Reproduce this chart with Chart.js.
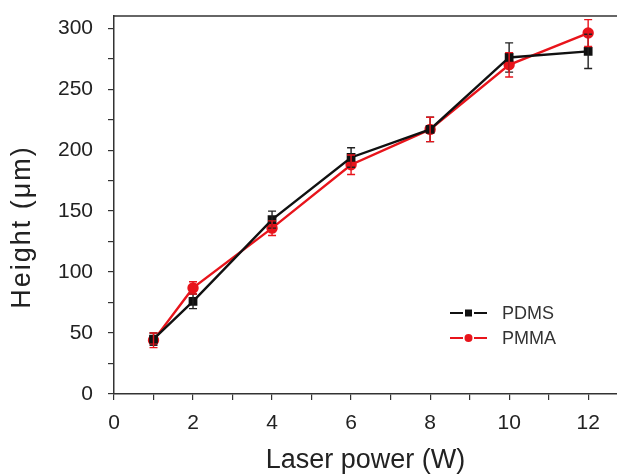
<!DOCTYPE html>
<html>
<head>
<meta charset="utf-8">
<script src="https://cdn.jsdelivr.net/npm/chart.js@4.4.1/dist/chart.umd.min.js"></script>
<style>
  html, body { margin: 0; padding: 0; background: #fff; overflow: hidden; }
  #wrap { width: 617px; height: 474px; }
  canvas { display: block; }
</style>
</head>
<body>
<div id="wrap"><canvas id="heightChart" width="617" height="474"></canvas></div>
<script>
// Donnees
const laserPower = [1, 2, 4, 6, 8, 10, 12];
const pdmsHeight = [45, 76, 143, 194, 217, 276, 281];
const pdmsError = [5, 6, 7, 8, 10, 12, 14];
const pmmaHeight = [44, 87, 136, 188, 217, 270, 296];
const pmmaError = [6, 5, 6, 8, 10, 10, 11];
const xTicks = [0, 2, 4, 6, 8, 10, 12];
const yTicks = [0, 50, 100, 150, 200, 250, 300];

const FONT = 'Arial, "Liberation Sans", sans-serif';

// Barres d'erreur, cadre du haut, titre Y et legende
const errorBars = {
  id: 'errorBars',
  afterDatasetsDraw(chart) {
    const ctx = chart.ctx;
    const xs = chart.scales.x, ys = chart.scales.y;
    const sets = [
      { values: pdmsHeight, errs: pdmsError, color: '#222' },
      { values: pmmaHeight, errs: pmmaError, color: '#e8141b' }
    ];
    ctx.save();
    sets.forEach(s => {
      ctx.strokeStyle = s.color;
      ctx.lineWidth = 1.4;
      laserPower.forEach((p, i) => {
        const x = xs.getPixelForValue(p);
        const top = ys.getPixelForValue(s.values[i] + s.errs[i]);
        const bot = ys.getPixelForValue(s.values[i] - s.errs[i]);
        ctx.beginPath();
        ctx.moveTo(x, top); ctx.lineTo(x, bot);
        ctx.moveTo(x - 4, top); ctx.lineTo(x + 4, top);
        ctx.moveTo(x - 4, bot); ctx.lineTo(x + 4, bot);
        ctx.stroke();
      });
    });
    // ligne du haut
    const a = chart.chartArea;
    ctx.strokeStyle = '#333';
    ctx.lineWidth = 1.5;
    ctx.beginPath();
    ctx.moveTo(a.left, a.top); ctx.lineTo(chart.width, a.top);
    ctx.stroke();

    // titre Y
    ctx.save();
    ctx.translate(23, 227);
    ctx.rotate(-Math.PI / 2);
    ctx.font = '27px ' + FONT;
    ctx.letterSpacing = '2px';
    ctx.fillStyle = '#222';
    ctx.textAlign = 'center';
    ctx.textBaseline = 'middle';
    ctx.fillText('Height (\u03bcm)', 0, 0);
    ctx.restore();

    // legende
    const items = [
      { label: 'PDMS', color: '#111', shape: 'rect', y: 313 },
      { label: 'PMMA', color: '#e8141b', shape: 'circle', y: 338 }
    ];
    items.forEach(it => {
      ctx.strokeStyle = it.color;
      ctx.fillStyle = it.color;
      ctx.lineWidth = 2.2;
      ctx.beginPath();
      ctx.moveTo(450, it.y); ctx.lineTo(463, it.y);
      ctx.moveTo(474, it.y); ctx.lineTo(487, it.y);
      ctx.stroke();
      ctx.beginPath();
      if (it.shape === 'rect') {
        ctx.rect(465, it.y - 3.5, 7, 7);
      } else {
        ctx.arc(468.5, it.y, 4, 0, Math.PI * 2);
      }
      ctx.fill();
      ctx.fillStyle = '#333';
      ctx.font = '18px ' + FONT;
      ctx.textBaseline = 'middle';
      ctx.fillText(it.label, 502, it.y + 1);
    });
    ctx.restore();
  }
};

const ctx = document.getElementById('heightChart').getContext('2d');
new Chart(ctx, {
  type: 'line',
  data: {
    datasets: [{
      label: 'PDMS',
      data: laserPower.map((p, i) => ({ x: p, y: pdmsHeight[i] })),
      borderColor: '#111',
      backgroundColor: '#111',
      borderWidth: 2.4,
      pointStyle: 'rect',
      pointRadius: 4.5,
      tension: 0
    }, {
      label: 'PMMA',
      data: laserPower.map((p, i) => ({ x: p, y: pmmaHeight[i] })),
      borderColor: '#e8141b',
      backgroundColor: '#e8141b',
      borderWidth: 2.4,
      pointStyle: 'circle',
      pointRadius: 4.5,
      tension: 0
    }]
  },
  options: {
    responsive: false,
    animation: false,
    layout: { autoPadding: false, padding: { top: 16, right: 0, left: 0, bottom: 0 } },
    plugins: {
      legend: { display: false },
      tooltip: { enabled: false }
    },
    scales: {
      x: {
        type: 'linear',
        min: 0,
        max: 12.73,
        afterFit(scale) {
          scale.height = 80;
          scale.paddingRight = 0;
          scale.paddingLeft = 0;
        },
        afterBuildTicks(scale) {
          const t = [];
          for (let v = 0; v <= 12; v++) t.push({ value: v });
          scale.ticks = t;
        },
        grid: { drawOnChartArea: false, tickLength: 6, color: '#333', lineWidth: 1.2 },
        border: { display: true, color: '#333', width: 1.5 },
        ticks: {
          color: '#222',
          font: { family: FONT, size: 21 },
          padding: 11,
          maxRotation: 0,
          callback: v => xTicks.includes(v) ? String(v) : ''
        },
        title: {
          display: true,
          text: 'Laser power (W)',
          color: '#222',
          font: { family: FONT, size: 27 },
          padding: { top: 0, bottom: -3 }
        }
      },
      y: {
        min: 0,
        max: 310,
        afterFit(scale) {
          scale.width = 114;
          scale.paddingTop = 0;
          scale.paddingBottom = 0;
        },
        afterBuildTicks(scale) {
          const t = [];
          for (let v = 0; v <= 300; v += 25) t.push({ value: v });
          scale.ticks = t;
        },
        grid: { drawOnChartArea: false, tickLength: 6, color: '#333', lineWidth: 1.2 },
        border: { display: true, color: '#333', width: 1.5 },
        ticks: {
          color: '#222',
          font: { family: FONT, size: 21 },
          padding: 15,
          callback: v => yTicks.includes(v) ? String(v) : ''
        }
      }
    }
  },
  plugins: [errorBars]
});
</script>
</body>
</html>
